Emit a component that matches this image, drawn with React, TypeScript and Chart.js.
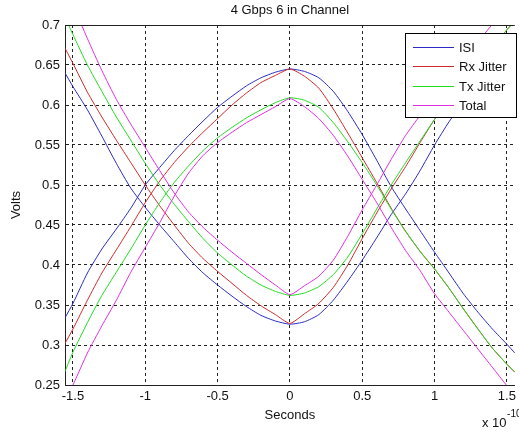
import { useEffect, useRef } from 'react';
import { Chart, registerables } from 'chart.js';

Chart.register(...registerables);

const titleText = '4 Gbps 6 in Channel';
const xAxisLabel = 'Seconds';
const yAxisLabel = 'Volts';
const xExponentBase = 'x 10';
const xExponent = '-10';

const seriesNames = ['ISI', 'Rx Jitter', 'Tx Jitter', 'Total'];
const seriesColors = ['#2b2bc4', '#cc2a2a', '#22dc22', '#e02ee0'];

const xTicks = [-1.5, -1, -0.5, 0, 0.5, 1, 1.5];
const yTicks = [0.25, 0.3, 0.35, 0.4, 0.45, 0.5, 0.55, 0.6, 0.65, 0.7];

// time (x 1e-10 s)
const xGrid = [
  -1.555, -1.5, -1.4, -1.3, -1.2, -1.1, -1.0, -0.9, -0.8, -0.7, -0.6, -0.5, -0.4, -0.3, -0.2, -0.1, 0,
  0.1, 0.2, 0.3, 0.4, 0.5, 0.6, 0.7, 0.8, 0.9, 1.0, 1.1, 1.2, 1.3, 1.4, 1.5, 1.555,
];

const isiUpper = [
  0.334, 0.352, 0.39, 0.42, 0.445, 0.471, 0.5, 0.522, 0.543, 0.562, 0.58, 0.597, 0.611, 0.624, 0.634, 0.641, 0.645,
  0.642, 0.634, 0.617, 0.592, 0.563, 0.531, 0.498, 0.47, 0.443, 0.416, 0.39, 0.364, 0.341, 0.32, 0.301, 0.29,
];
const isiLower = [
  0.64, 0.623, 0.594, 0.561, 0.527, 0.496, 0.472, 0.45, 0.429, 0.408, 0.39, 0.375, 0.361, 0.348, 0.337, 0.33, 0.326,
  0.329, 0.338, 0.356, 0.38, 0.406, 0.434, 0.463, 0.489, 0.518, 0.55, 0.579, 0.604, 0.628, 0.651, 0.674, 0.686,
];
const rxUpper = [
  0.302, 0.32, 0.356, 0.39, 0.419, 0.448, 0.478, 0.505, 0.528, 0.548, 0.566, 0.583, 0.6, 0.615, 0.628, 0.637, 0.645,
  0.636, 0.621, 0.595, 0.565, 0.534, 0.503, 0.471, 0.442, 0.417, 0.395, 0.371, 0.345, 0.32, 0.296, 0.276, 0.266,
];
const rxLower = [
  0.671, 0.652, 0.616, 0.585, 0.556, 0.528, 0.5, 0.474, 0.45, 0.427, 0.408, 0.392, 0.377, 0.362, 0.349, 0.338, 0.327,
  0.339, 0.352, 0.372, 0.4, 0.433, 0.465, 0.495, 0.523, 0.553, 0.582, 0.606, 0.628, 0.65, 0.672, 0.694, 0.705,
];
const txUpper = [
  0.267, 0.291, 0.328, 0.362, 0.391, 0.42, 0.45, 0.478, 0.503, 0.524, 0.543, 0.559, 0.572, 0.584, 0.594, 0.603, 0.609,
  0.606, 0.597, 0.578, 0.554, 0.528, 0.5, 0.47, 0.442, 0.417, 0.395, 0.371, 0.345, 0.32, 0.296, 0.276, 0.266,
];
const txLower = [
  0.71, 0.688, 0.65, 0.617, 0.585, 0.556, 0.527, 0.5, 0.476, 0.454, 0.433, 0.415, 0.4, 0.386, 0.375, 0.367, 0.362,
  0.365, 0.373, 0.388, 0.41, 0.439, 0.47, 0.5, 0.528, 0.555, 0.582, 0.606, 0.628, 0.65, 0.672, 0.694, 0.705,
];
const totalUpper = [
  0.232, 0.25, 0.29, 0.324, 0.356, 0.391, 0.422, 0.453, 0.486, 0.515, 0.537, 0.553, 0.566, 0.578, 0.588, 0.598, 0.608,
  0.598, 0.583, 0.562, 0.536, 0.507, 0.478, 0.447, 0.418, 0.393, 0.364, 0.341, 0.318, 0.295, 0.272, 0.249, 0.236,
];
const totalLower = [
  0.745, 0.725, 0.683, 0.643, 0.607, 0.576, 0.547, 0.518, 0.49, 0.466, 0.447, 0.431, 0.416, 0.402, 0.388, 0.375, 0.363,
  0.374, 0.386, 0.406, 0.436, 0.469, 0.5, 0.532, 0.562, 0.587, 0.61, 0.633, 0.656, 0.679, 0.701, 0.723, 0.734,
];

const seriesCurves = [
  [isiUpper, isiLower],
  [rxUpper, rxLower],
  [txUpper, txLower],
  [totalUpper, totalLower],
];

const FONT_FAMILY = "'Liberation Sans', Arial, Helvetica, sans-serif";
const TEXT_COLOR = '#111111';
const AXIS_COLOR = '#222222';

export default function App() {
  const canvasRef = useRef<HTMLCanvasElement | null>(null);

  useEffect(() => {
    const canvas = canvasRef.current;
    if (!canvas) return;

    const datasets: any[] = [];
    seriesCurves.forEach((curves, i) => {
      curves.forEach((ys) => {
        datasets.push({
          label: seriesNames[i],
          data: xGrid.map((x, j) => ({ x, y: ys[j] })),
          borderColor: seriesColors[i],
          backgroundColor: seriesColors[i],
          borderWidth: 1,
          pointRadius: 0,
          showLine: true,
          fill: false,
          tension: 0.2,
          order: 4 - i,
        });
      });
    });

    const framePlugin = {
      id: 'frameAndLegend',
      afterDraw(chart: any) {
        const { ctx, chartArea } = chart;
        ctx.save();
        // top border
        ctx.strokeStyle = AXIS_COLOR;
        ctx.lineWidth = 1;
        ctx.beginPath();
        ctx.moveTo(chartArea.left, Math.round(chartArea.top) + 0.5);
        ctx.lineTo(chartArea.right, Math.round(chartArea.top) + 0.5);
        ctx.stroke();

        // legend box
        const bx = 405.5, by = 33.5, bw = 111, bh = 84;
        ctx.fillStyle = '#ffffff';
        ctx.fillRect(bx, by, bw, bh);
        ctx.strokeStyle = '#000000';
        ctx.strokeRect(bx, by, bw, bh);
        ctx.font = `13px ${FONT_FAMILY}`;
        ctx.textAlign = 'left';
        ctx.textBaseline = 'middle';
        seriesNames.forEach((name, i) => {
          const y = Math.round(46.5 + i * 19.5) + 0.5;
          ctx.strokeStyle = seriesColors[i];
          ctx.beginPath();
          ctx.moveTo(413, y);
          ctx.lineTo(454, y);
          ctx.stroke();
          ctx.fillStyle = TEXT_COLOR;
          ctx.fillText(name, 459, y + 0.5);
        });

        // exponent label
        ctx.fillStyle = TEXT_COLOR;
        ctx.textBaseline = 'alphabetic';
        ctx.font = `13px ${FONT_FAMILY}`;
        ctx.fillText(xExponentBase, 482, 426.5);
        const w = ctx.measureText(xExponentBase).width;
        ctx.font = `10px ${FONT_FAMILY}`;
        ctx.fillText(xExponent, 482 + w + 0.5, 417);
        ctx.restore();
      },
    };

    const tickFont = { family: FONT_FAMILY, size: 13 };

    const chart = new Chart(canvas, {
      type: 'scatter',
      data: { datasets },
      plugins: [framePlugin],
      options: {
        responsive: false,
        devicePixelRatio: 1,
        animation: false,
        maintainAspectRatio: false,
        layout: { padding: 0 },
        plugins: {
          legend: { display: false },
          tooltip: { enabled: false },
          title: {
            display: true,
            text: titleText,
            fullSize: false,
            color: TEXT_COLOR,
            font: { family: FONT_FAMILY, size: 13, weight: 'normal' },
            padding: { top: 3, bottom: 6.4 },
          },
        },
        scales: {
          x: {
            type: 'linear',
            min: -1.555,
            max: 1.555,
            afterBuildTicks: (s: any) => {
              s.ticks = xTicks.map((v) => ({ value: v }));
            },
            afterFit: (s: any) => {
              s.height = 46;
            },
            ticks: {
              autoSkip: false,
              maxRotation: 0,
              padding: 4,
              color: TEXT_COLOR,
              font: tickFont,
              callback: (v: any) => String(v),
            },
            grid: { color: AXIS_COLOR, lineWidth: 1, drawTicks: false },
            border: { display: true, color: AXIS_COLOR, dash: [3, 3] },
            title: {
              display: true,
              text: xAxisLabel,
              color: TEXT_COLOR,
              font: tickFont,
              padding: { top: 0, bottom: 8.2 },
            },
          },
          y: {
            type: 'linear',
            min: 0.25,
            max: 0.7,
            afterBuildTicks: (s: any) => {
              s.ticks = yTicks.map((v) => ({ value: v }));
            },
            afterFit: (s: any) => {
              s.width = 65;
            },
            ticks: {
              autoSkip: false,
              padding: 5,
              color: TEXT_COLOR,
              font: tickFont,
              callback: (v: any) => String(Number(Number(v).toFixed(2))),
            },
            grid: { color: AXIS_COLOR, lineWidth: 1, drawTicks: false },
            border: { display: true, color: AXIS_COLOR, dash: [3, 3] },
            title: {
              display: true,
              text: yAxisLabel,
              color: TEXT_COLOR,
              font: tickFont,
              padding: { top: 8.2, bottom: 0 },
            },
          },
        },
      } as any,
    });

    return () => {
      chart.destroy();
    };
  }, []);

  return (
    <div
      style={{
        position: 'fixed',
        left: 0,
        top: 0,
        width: 519,
        height: 431,
        overflow: 'hidden',
        background: '#ffffff',
      }}
    >
      <canvas ref={canvasRef} width={520} height={431} style={{ display: 'block' }} />
    </div>
  );
}
